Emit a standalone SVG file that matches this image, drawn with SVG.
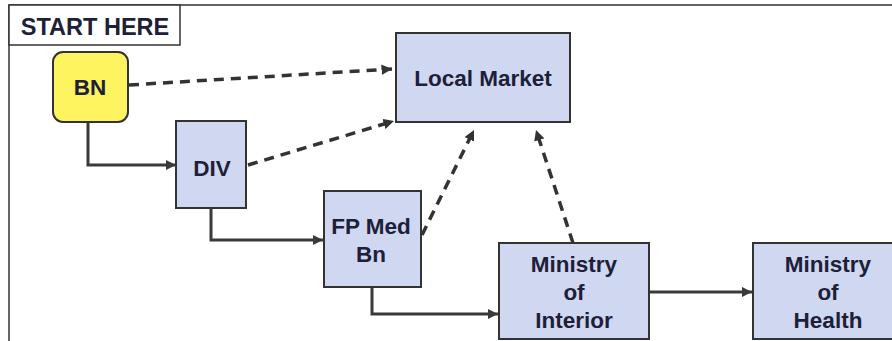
<svg xmlns="http://www.w3.org/2000/svg" width="892" height="341" viewBox="0 0 892 341">
<defs>
<style>
.box{fill:#cfd7f1;stroke:#333;stroke-width:2}
.yel{fill:#fdf460;stroke:#333;stroke-width:2}
.lbl{font-family:"Liberation Sans",Arial,sans-serif;font-weight:bold;font-size:22.5px;fill:#1d2038;text-anchor:middle}
.solid{fill:none;stroke:#3a3a3a;stroke-width:3;marker-end:url(#ah)}
.dash{fill:none;stroke:#333;stroke-width:3.5;stroke-dasharray:10 7;marker-end:url(#ahd)}
.frame{fill:none;stroke:#333;stroke-width:1.5}
</style>
<marker id="ah" viewBox="0 0 10 10" refX="10" refY="5" markerWidth="3.4" markerHeight="3.4" orient="auto" markerUnits="strokeWidth">
<path d="M0,0 L10,5 L0,10 Z" fill="#3a3a3a"/>
</marker>
<marker id="ahd" viewBox="0 0 10 10" refX="10" refY="5" markerWidth="3" markerHeight="3" orient="auto" markerUnits="strokeWidth">
<path d="M0,0 L10,5 L0,10 Z" fill="#333"/>
</marker>
</defs>
<rect width="892" height="341" fill="#fff"/>
<g id="frame">
<path class="frame" d="M9,341 V5 H892"/>
</g>
<g id="start-here">
<rect x="9" y="5" width="171" height="40" fill="#fff" stroke="#333" stroke-width="1.5"/>
<text class="lbl" x="95" y="35" style="font-size:23.5px">START HERE</text>
</g>
<g id="connectors">
<path class="solid" d="M88,122 V165 H176"/>
<path class="solid" d="M211,209 V240 H323"/>
<path class="solid" d="M372,287 V314 H498"/>
<path class="solid" d="M649,292 H752"/>
<path class="dash" d="M129,85 L392,69"/>
<path class="dash" d="M248,165 L394,121"/>
<path class="dash" d="M422,235 L474,130"/>
<path class="dash" d="M573,243 L536,130"/>
</g>
<g id="bn">
<rect class="yel" x="53" y="52" width="75" height="70" rx="10"/>
<text class="lbl" x="90" y="95">BN</text>
</g>
<g id="div">
<rect class="box" x="176" y="121" width="70" height="87"/>
<text class="lbl" x="212" y="176">DIV</text>
</g>
<g id="local-market">
<rect class="box" x="396" y="33" width="174" height="89"/>
<text class="lbl" x="483" y="86">Local Market</text>
</g>
<g id="fp-med-bn">
<rect class="box" x="324" y="191" width="97" height="96"/>
<text class="lbl" x="371" y="234">FP Med</text>
<text class="lbl" x="371" y="262">Bn</text>
</g>
<g id="ministry-interior">
<rect class="box" x="499" y="243" width="150" height="96"/>
<text class="lbl" x="574" y="272">Ministry</text>
<text class="lbl" x="574" y="300">of</text>
<text class="lbl" x="574" y="328">Interior</text>
</g>
<g id="ministry-health">
<rect class="box" x="753" y="243" width="145" height="96"/>
<text class="lbl" x="828" y="272">Ministry</text>
<text class="lbl" x="828" y="300">of</text>
<text class="lbl" x="828" y="328">Health</text>
</g>
</svg>
